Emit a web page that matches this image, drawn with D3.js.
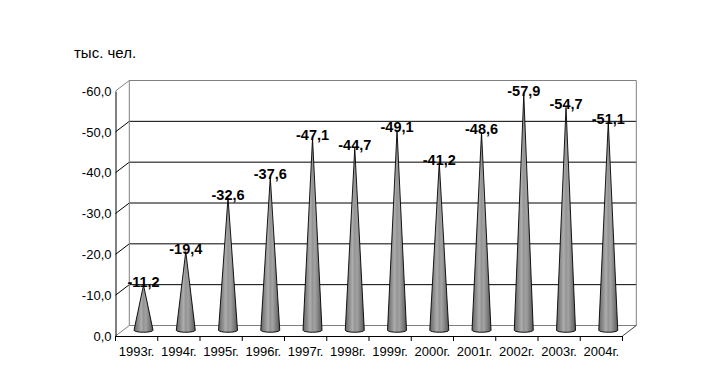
<!DOCTYPE html>
<html>
<head>
<meta charset="utf-8">
<script src="https://cdn.jsdelivr.net/npm/d3@7"></script>
<style>
  body { margin: 0; background: #fff; }
  text { font-family: "Liberation Sans", Arial, sans-serif; }
</style>
</head>
<body>
<div id="graphicContainer"></div>
<script>
// values in thousand people (shown as negative numbers)
var years = ["1993г.", "1994г.", "1995г.", "1996г.", "1997г.", "1998г.", "1999г.", "2000г.", "2001г.", "2002г.", "2003г.", "2004г."]
var values = [-11.2, -19.4, -32.6, -37.6, -47.1, -44.7, -49.1, -41.2, -48.6, -57.9, -54.7, -51.1]
var yTicks = [0, -10, -20, -30, -40, -50, -60]

var fmt = d => d3.format(".1f")(d).replace(".", ",").replace("−", "-")

function makeChart() {
    var width = 712, height = 384
    var depth = {x: 13.8, y: -10.5}   // 3d depth shift front -> back

    var svg = d3.select("#graphicContainer").append("svg")
        .attr("width", width)
        .attr("height", height)

    var defs = svg.append("defs")
    var grad = defs.append("linearGradient").attr("id", "coneGrad")
        .attr("x1", "0%").attr("x2", "100%").attr("y1", "0%").attr("y2", "0%")
    var stops = [[0, "#666"], [0.2, "#8a8a8a"], [0.38, "#adadad"], [0.5, "#949494"], [0.62, "#a2a2a2"], [0.8, "#808080"], [1, "#585858"]]
    stops.forEach(s => grad.append("stop").attr("offset", s[0]).attr("stop-color", s[1]))

    var x = d3.scaleBand().domain(years).range([115.5, 622.5])
    var y = d3.scaleLinear().domain([0, -60]).range([336, 91])

    // title
    svg.append("text")
        .attr("x", 74).attr("y", 58)
        .attr("font-size", 15)
        .text("тыс. чел.")

    var x0 = x.range()[0], x1 = x.range()[1]

    // back wall gridlines with side diagonals
    var grid = svg.append("g")
    yTicks.forEach(t => {
        var edge = (t === 0 || t === -60)
        var col = edge ? "#808080" : "#000"
        grid.append("line")
            .attr("x1", x0).attr("y1", y(t))
            .attr("x2", x0 + depth.x).attr("y2", y(t) + depth.y)
            .attr("stroke", col).attr("stroke-width", 1)
        grid.append("line")
            .attr("x1", x0 + depth.x).attr("y1", y(t) + depth.y)
            .attr("x2", x1 + depth.x).attr("y2", y(t) + depth.y)
            .attr("stroke", col).attr("stroke-width", 1)
    })
    // wall edges
    grid.append("line")
        .attr("x1", x0 + depth.x).attr("y1", y(0) + depth.y)
        .attr("x2", x0 + depth.x).attr("y2", y(-60) + depth.y)
        .attr("stroke", "#808080")
    grid.append("line")
        .attr("x1", x1 + depth.x).attr("y1", y(0) + depth.y)
        .attr("x2", x1 + depth.x).attr("y2", y(-60) + depth.y)
        .attr("stroke", "#808080")
    grid.append("line")
        .attr("x1", x1).attr("y1", y(0))
        .attr("x2", x1 + depth.x).attr("y2", y(0) + depth.y)
        .attr("stroke", "#404040")

    // y axis
    var yAxis = svg.append("g")
        .attr("transform", "translate(" + x0 + ",0)")
        .call(d3.axisLeft(y).tickValues(yTicks).tickSize(0).tickPadding(4).tickFormat(fmt))
    yAxis.select(".domain").attr("stroke", "#000")
    yAxis.selectAll("text").attr("font-size", 13).attr("font-family", "Liberation Sans, Arial, sans-serif")

    // x axis
    var xAxis = svg.append("g")
        .attr("transform", "translate(0," + y(0) + ")")
        .call(d3.axisBottom(x).tickSize(0).tickPadding(11))
    xAxis.select(".domain").attr("stroke", "#000")
    xAxis.selectAll("text").attr("font-size", 13).attr("font-family", "Liberation Sans, Arial, sans-serif")
    xAxis.selectAll(".bound")
        .data(d3.range(years.length + 1))
        .enter().append("line")
        .attr("x1", i => x0 + i * x.bandwidth())
        .attr("x2", i => x0 + i * x.bandwidth())
        .attr("y1", 0).attr("y2", 5)
        .attr("stroke", "#000")

    // cones at mid depth
    var r = 9.5, ry = 2
    var cx = d => x(d.year) + x.bandwidth() / 2 + depth.x / 2
    var cy = d => y(d.value) + depth.y / 2
    var baseY = y(0) + depth.y / 2 - 0.5
    var data = years.map((yr, i) => ({year: yr, value: values[i]}))

    var cones = svg.append("g").selectAll("g")
        .data(data).enter().append("g")

    cones.append("path")
        .attr("d", d => {
            var c = cx(d)
            return "M" + (c - r) + "," + baseY +
                "L" + c + "," + cy(d) +
                "L" + (c + r) + "," + baseY +
                "A" + r + "," + ry + " 0 0 1 " + (c - r) + "," + baseY + "Z"
        })
        .attr("fill", "url(#coneGrad)")
        .attr("stroke", "#000")
        .attr("stroke-width", 0.9)
        .attr("stroke-linejoin", "round")

    cones.append("text")
        .attr("x", d => cx(d))
        .attr("y", d => cy(d) + 2)
        .attr("text-anchor", "middle")
        .attr("font-size", 14.5)
        .attr("font-weight", "bold")
        .text(d => fmt(d.value))
}

makeChart()
</script>
</body>
</html>
